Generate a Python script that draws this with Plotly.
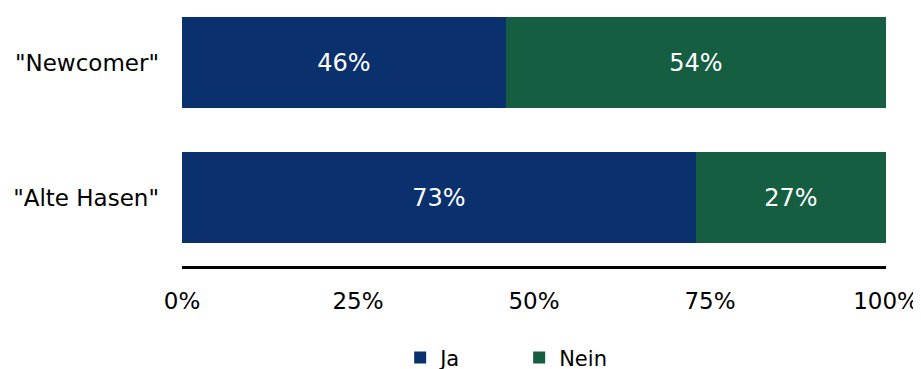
import plotly.graph_objects as go

categories = ['"Newcomer"', '"Alte Hasen"']
ja_values = [46, 73]
nein_values = [54, 27]
x_ticks = [0, 25, 50, 75, 100]
x_tick_labels = ["0%", "25%", "50%", "75%", "100%"]

blue = "#0b306e"
green = "#165e42"

fig = go.Figure()
fig.add_trace(go.Bar(
    y=categories, x=ja_values, name="Ja", orientation="h",
    marker=dict(color=blue, line=dict(width=0)),
    texttemplate="%{x}%", textposition="inside", insidetextanchor="middle",
    textfont=dict(color="white", size=24, family="DejaVu Sans"),
))
fig.add_trace(go.Bar(
    y=categories, x=nein_values, name="Nein", orientation="h",
    marker=dict(color=green, line=dict(width=0)),
    texttemplate="%{x}%", textposition="inside", insidetextanchor="middle",
    textfont=dict(color="white", size=24, family="DejaVu Sans"),
))

fig.update_layout(
    width=921, height=369,
    barmode="stack", bargap=0.326,
    margin=dict(l=174, r=43, t=2, b=111, autoexpand=False),
    plot_bgcolor="white", paper_bgcolor="white",
    font=dict(family="DejaVu Sans", color="black"),
    showlegend=True,
    legend=dict(
        orientation="h", xref="container", yref="container",
        x=0.4258, xanchor="left", y=0.052, yanchor="middle",
        font=dict(size=21, family="DejaVu Sans"),
        itemwidth=30, entrywidth=74, entrywidthmode="pixels",
        traceorder="normal",
    ),
    uniformtext=dict(minsize=10, mode="show"),
)
fig.update_xaxes(
    range=[0, 100], tickvals=x_ticks, ticktext=x_tick_labels,
    showgrid=False, zeroline=False, automargin=False,
    showline=True, linecolor="black", linewidth=3,
    tickfont=dict(size=23, family="DejaVu Sans"),
    ticklabelstandoff=12,
)
fig.update_yaxes(
    categoryorder="array", categoryarray=categories[::-1],
    range=[-0.507, 1.389], automargin=False,
    showgrid=False, zeroline=False, showline=False,
    tickfont=dict(size=23, family="DejaVu Sans"),
    ticklabelstandoff=22,
)

fig.write_html("out.html")
